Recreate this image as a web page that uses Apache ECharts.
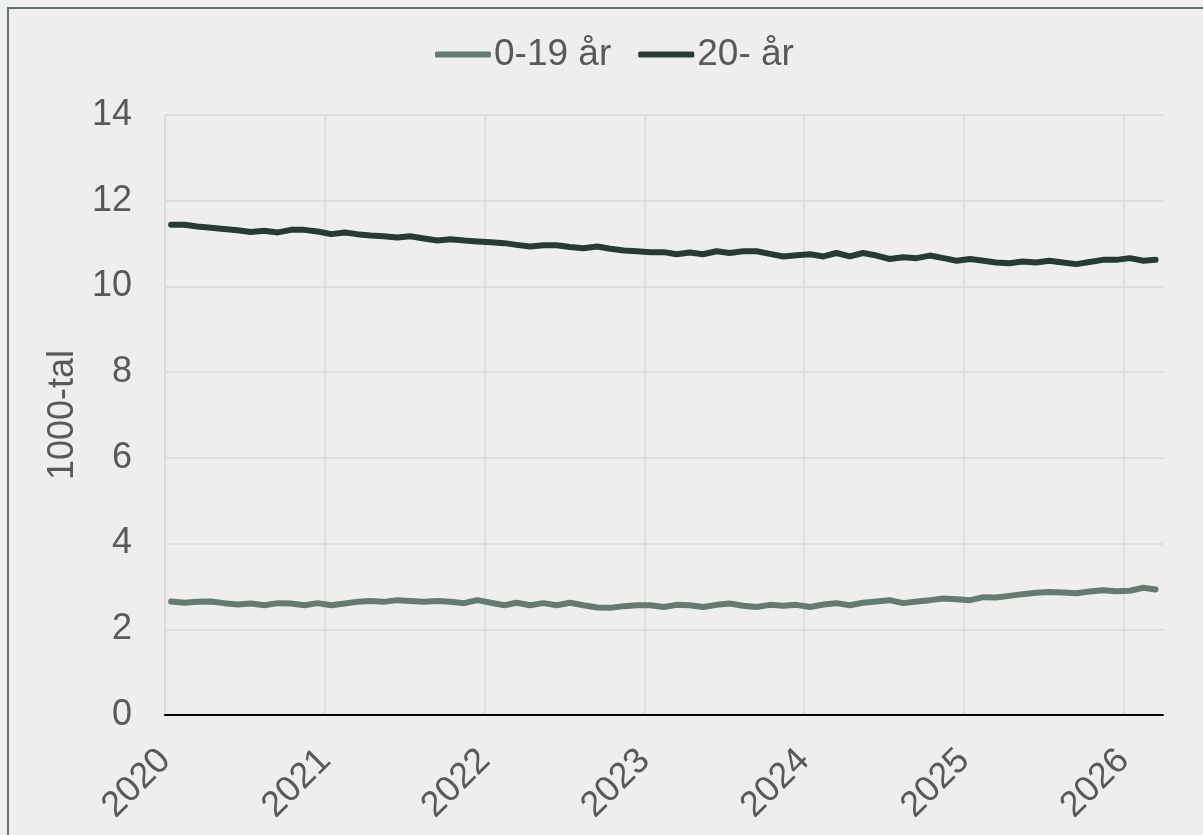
<!DOCTYPE html>
<html>
<head>
<meta charset="utf-8">
<script src="https://cdn.jsdelivr.net/npm/echarts@6/dist/echarts.min.js"></script>
<style>
html,body{margin:0;padding:0;background:#eeeeee;}
#c{width:1203px;height:835px;}
</style>
</head>
<body>
<div id="c"></div>
<script>
// Monthly observations, Jan 2020 - Mar 2026 (value in 1000s)
const seriesNames = ['0-19 år', '20- år'];
const yearTicks = ['2020','2021','2022','2023','2024','2025','2026'];
const yTicks = [0, 2, 4, 6, 8, 10, 12, 14];

const months = [
  '2020-01','2020-02','2020-03','2020-04','2020-05','2020-06','2020-07','2020-08','2020-09','2020-10','2020-11','2020-12',
  '2021-01','2021-02','2021-03','2021-04','2021-05','2021-06','2021-07','2021-08','2021-09','2021-10','2021-11','2021-12',
  '2022-01','2022-02','2022-03','2022-04','2022-05','2022-06','2022-07','2022-08','2022-09','2022-10','2022-11','2022-12',
  '2023-01','2023-02','2023-03','2023-04','2023-05','2023-06','2023-07','2023-08','2023-09','2023-10','2023-11','2023-12',
  '2024-01','2024-02','2024-03','2024-04','2024-05','2024-06','2024-07','2024-08','2024-09','2024-10','2024-11','2024-12',
  '2025-01','2025-02','2025-03','2025-04','2025-05','2025-06','2025-07','2025-08','2025-09','2025-10','2025-11','2025-12',
  '2026-01','2026-02','2026-03'
];

const young = [
  2.65,2.62,2.64,2.65,2.61,2.58,2.60,2.56,2.61,2.60,2.56,2.61,
  2.56,2.60,2.64,2.66,2.64,2.68,2.66,2.64,2.66,2.64,2.61,2.68,
  2.62,2.56,2.62,2.56,2.61,2.56,2.62,2.56,2.51,2.50,2.54,2.56,
  2.56,2.52,2.57,2.56,2.52,2.57,2.60,2.55,2.52,2.57,2.55,2.57,
  2.52,2.58,2.61,2.56,2.62,2.65,2.68,2.61,2.65,2.68,2.72,2.70,
  2.68,2.75,2.74,2.78,2.82,2.85,2.87,2.86,2.84,2.88,2.91,2.89,
  2.90,2.97,2.93
];

const adult = [
  11.44,11.44,11.40,11.37,11.34,11.31,11.27,11.30,11.26,11.32,11.32,11.28,
  11.22,11.26,11.22,11.19,11.17,11.14,11.17,11.12,11.07,11.10,11.07,11.05,
  11.03,11.01,10.97,10.93,10.96,10.96,10.92,10.89,10.93,10.88,10.84,10.82,
  10.80,10.80,10.75,10.79,10.75,10.82,10.78,10.82,10.82,10.76,10.70,10.73,
  10.75,10.70,10.78,10.70,10.78,10.72,10.64,10.68,10.66,10.72,10.66,10.60,
  10.64,10.60,10.56,10.54,10.58,10.56,10.60,10.56,10.52,10.57,10.62,10.62,
  10.66,10.60,10.62
];

const toPairs = vals => months.map((m, i) => [m + '-15', vals[i]]);

const chart = echarts.init(document.getElementById('c'));
const FONT = '"Liberation Sans", Arial, sans-serif';
const YEAR = 365.25 * 24 * 3600 * 1000;

chart.setOption({
  backgroundColor: '#eeeeee',
  animation: false,
  textStyle: { fontFamily: FONT },
  graphic: [{
    type: 'rect', silent: true, z: 100,
    shape: { x: 8, y: 8, width: 1400, height: 1000 },
    style: { fill: 'none', stroke: '#5e7468', lineWidth: 2 }
  }],
  legend: {
    top: 31, left: 430,
    itemWidth: 56, itemHeight: 6, itemGap: 27,
    icon: 'roundRect',
    textStyle: { fontSize: 37, color: '#595959', fontFamily: FONT, padding: [0, 0, 0, -2] },
    data: seriesNames
  },
  grid: { left: 165, top: 115, right: 40, bottom: 120, containLabel: false },
  xAxis: {
    type: 'time',
    min: yearTicks[0] + '-01-01',
    max: '2026-04-01',
    minInterval: YEAR * 0.98,
    maxInterval: YEAR * 1.02,
    splitNumber: 6,
    axisLine: { show: true, onZero: false, lineStyle: { color: '#000000', width: 2 } },
    axisTick: { show: false },
    axisLabel: {
      rotate: 45, margin: 40, fontSize: 36, color: '#595959', fontFamily: FONT,
      showMaxLabel: false,
      formatter: v => { const y = String(new Date(v).getFullYear()); return yearTicks.includes(y) ? y : ''; }
    },
    splitLine: { show: true, showMaxLine: false, lineStyle: { color: '#d9d9d9', width: 1.5 } }
  },
  yAxis: {
    type: 'value',
    min: yTicks[0], max: yTicks[yTicks.length - 1], interval: 2,
    name: '1000-tal',
    nameLocation: 'middle',
    nameGap: 81,
    nameTextStyle: { fontSize: 36, color: '#595959', fontFamily: FONT },
    axisLine: { show: false },
    axisTick: { show: false },
    axisLabel: { fontSize: 36, color: '#595959', margin: 33, fontFamily: FONT },
    splitLine: { show: true, lineStyle: { color: '#d9d9d9', width: 1.5 } }
  },
  series: [
    {
      name: seriesNames[0], type: 'line', data: toPairs(young),
      showSymbol: false, symbol: 'none',
      itemStyle: { color: '#647c70' },
      lineStyle: { color: '#647c70', width: 6, cap: 'round', join: 'round' }
    },
    {
      name: seriesNames[1], type: 'line', data: toPairs(adult),
      showSymbol: false, symbol: 'none',
      itemStyle: { color: '#263b33' },
      lineStyle: { color: '#263b33', width: 6, cap: 'round', join: 'round' }
    }
  ]
});
</script>
</body>
</html>
